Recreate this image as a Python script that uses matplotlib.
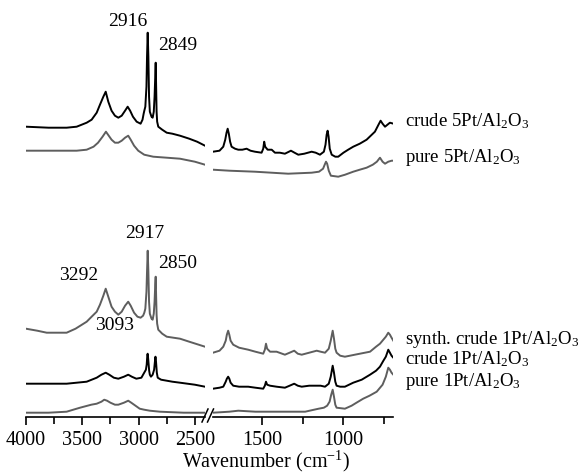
import matplotlib
matplotlib.use("Agg")
import matplotlib.pyplot as plt
from matplotlib.lines import Line2D

plt.rcParams['font.family'] = ['Liberation Serif', 'DejaVu Serif']
plt.rcParams['mathtext.fontset'] = 'custom'
plt.rcParams['mathtext.rm'] = 'Liberation Serif'
plt.rcParams['mathtext.it'] = 'Liberation Serif:italic'
plt.rcParams['mathtext.bf'] = 'Liberation Serif:bold'

# ---------------- data (wavenumber in cm-1, absorbance in a.u. with offsets) ----------------
# high-wavenumber region (4000-2410)
crude5_hi_wn = [4000, 3800, 3639, 3550, 3461, 3417, 3372, 3343, 3313, 3292, 3269, 3240, 3210, 3180, 3150,
                3120, 3097, 3075, 3050, 3017, 2982, 2965, 2955, 2949, 2940, 2930, 2925, 2919, 2913, 2907,
                2900, 2885, 2875, 2865, 2858, 2852, 2848, 2844, 2840, 2835, 2825, 2790, 2750, 2700, 2632,
                2550, 2480, 2410]
crude5_hi_y = [290, 289, 289, 290, 294, 297, 304, 312, 320, 325, 315, 306, 301, 299, 301,
               306, 310, 306, 300, 295, 293, 297, 303, 306, 310, 330, 360, 384, 360, 320,
               305, 300, 299, 305, 320, 340, 354, 330, 305, 295, 290, 287, 284, 283, 281,
               278, 275, 271]

pure5_hi_wn = [4000, 3700, 3550, 3461, 3400, 3360, 3320, 3290, 3265, 3240, 3210, 3180, 3150, 3120, 3092,
               3070, 3040, 3003, 2950, 2870, 2750, 2632, 2500, 2410]
pure5_hi_y = [266, 266, 266, 267, 270, 274, 280, 285, 281, 277, 274, 274, 276, 279, 281,
              277, 271, 266, 262, 260, 259, 258, 255, 252]

synth1_hi_wn = [4000, 3900, 3816, 3700, 3639, 3560, 3461, 3417, 3372, 3343, 3313, 3292, 3269, 3240, 3210,
                3180, 3150, 3120, 3092, 3070, 3040, 3010, 2982, 2960, 2949, 2940, 2930, 2925, 2919, 2913,
                2907, 2900, 2885, 2875, 2865, 2858, 2852, 2848, 2844, 2840, 2835, 2825, 2790, 2750, 2632,
                2550, 2410]
synth1_hi_y = [88, 86, 84, 84, 84, 88, 95, 100, 105, 112, 121, 128, 120, 110, 105,
               102, 105, 111, 115, 111, 104, 100, 99, 101, 104, 108, 125, 145, 166, 145,
               115, 103, 98, 97, 103, 115, 132, 140, 120, 102, 93, 87, 83, 80, 78,
               75, 70]

crude1_hi_wn = [4000, 3800, 3639, 3550, 3461, 3372, 3330, 3292, 3260, 3220, 3180, 3130, 3092, 3060, 3020,
                2975, 2960, 2945, 2935, 2928, 2922, 2919, 2914, 2906, 2900, 2890, 2875, 2862, 2855, 2850,
                2845, 2838, 2830, 2800, 2700, 2632, 2500, 2410]
crude1_hi_y = [33, 33, 33, 34, 35, 39, 42, 44, 42, 39, 38, 40, 42, 40, 38,
               39, 42, 45, 47, 52, 62, 63, 57, 46, 42, 40, 42, 47, 55, 60,
               55, 44, 39, 37, 35, 34, 32, 30]

pure1_hi_wn = [4000, 3800, 3639, 3580, 3520, 3420, 3372, 3330, 3305, 3280, 3250, 3210, 3180, 3130, 3092,
               3065, 3040, 2990, 2950, 2900, 2810, 2600, 2410]
pure1_hi_y = [4, 4, 5, 7, 9, 12, 13, 15, 17, 16, 14, 12, 12, 14, 16,
              14, 12, 8, 7, 6, 5, 4, 4]

# low-wavenumber region (1800-693)
crude5_lo_wn = [1800, 1760, 1737, 1725, 1717, 1710, 1703, 1695, 1686, 1665, 1645, 1620, 1594, 1570, 1543,
                1502, 1492, 1486, 1480, 1465, 1450, 1440, 1420, 1390, 1359, 1322, 1300, 1277, 1240, 1195,
                1170, 1144, 1120, 1110, 1103, 1097, 1091, 1084, 1072, 1050, 1032, 1000, 971, 940, 900,
                858, 807, 785, 772, 760, 745, 730, 715, 693]
crude5_lo_y = [265, 266, 270, 277, 284, 288, 283, 275, 270, 268, 267, 267, 268, 266, 265,
               264, 268, 275, 270, 267, 267, 267, 264, 264, 263, 266, 264, 262, 263, 265,
               264, 262, 265, 272, 282, 286, 280, 268, 262, 260, 260, 264, 267, 270, 273,
               277, 285, 292, 296, 293, 290, 292, 294, 293]

pure5_lo_wn = [1800, 1700, 1543, 1339, 1195, 1150, 1125, 1115, 1107, 1100, 1090, 1077, 1032, 990, 940,
               900, 858, 820, 795, 776, 760, 745, 725, 704, 693]
pure5_lo_y = [247, 246, 245, 243, 244, 245, 248, 252, 255, 253, 246, 241, 240, 242, 245,
              247, 249, 252, 255, 259, 255, 253, 255, 256, 256]

synth1_lo_wn = [1800, 1760, 1737, 1722, 1715, 1707, 1700, 1692, 1676, 1640, 1584, 1540, 1492, 1482, 1475,
                1468, 1450, 1410, 1359, 1330, 1302, 1280, 1256, 1210, 1164, 1140, 1113, 1090, 1078, 1066,
                1058, 1050, 1042, 1020, 991, 960, 930, 868, 837, 800, 776, 740, 725, 715, 705, 694]
synth1_lo_y = [64, 66, 70, 76, 82, 86, 82, 76, 72, 69, 67, 65, 63, 67, 73,
               68, 65, 65, 62, 64, 66, 63, 62, 64, 66, 65, 64, 68, 76, 86,
               78, 68, 64, 61, 60, 61, 62, 64, 65, 70, 73, 80, 84, 82, 79, 76]

crude1_lo_wn = [1800, 1760, 1737, 1722, 1715, 1707, 1700, 1692, 1676, 1640, 1584, 1540, 1492, 1482, 1475,
                1468, 1450, 1410, 1359, 1330, 1302, 1280, 1256, 1210, 1164, 1140, 1113, 1090, 1078, 1066,
                1058, 1050, 1042, 1020, 991, 940, 888, 837, 800, 776, 755, 740, 725, 715, 705, 694]
crude1_lo_y = [28, 29, 30, 35, 38, 40, 38, 34, 31, 30, 30, 29, 28, 31, 35,
               32, 31, 30, 29, 31, 33, 31, 30, 31, 31, 31, 30, 33, 40, 51,
               44, 35, 31, 30, 30, 34, 37, 42, 46, 50, 56, 60, 67, 64, 61, 59]

pure1_lo_wn = [1800, 1700, 1645, 1540, 1440, 1235, 1180, 1152, 1120, 1100, 1085, 1075, 1066, 1058, 1050,
               1042, 991, 950, 920, 879, 840, 796, 760, 740, 725, 715, 705, 694]
pure1_lo_y = [4, 5, 6, 5, 5, 5, 7, 8, 9, 11, 15, 22, 27, 20, 12,
              9, 8, 11, 14, 18, 21, 25, 32, 40, 49, 47, 44, 42]

peak_labels = ['2916', '2849', '2917', '2850', '3292', '3093']
series_labels = ['crude 5Pt/Al$_2$O$_3$', 'pure 5Pt/Al$_2$O$_3$',
                 'synth. crude 1Pt/Al$_2$O$_3$', 'crude 1Pt/Al$_2$O$_3$', 'pure 1Pt/Al$_2$O$_3$']
left_ticks = [4000, 3500, 3000, 2500]
left_minor = [3750, 3250, 2750]
right_ticks = [1500, 1000]
right_minor = [1250, 750]

# ---------------- layout ----------------
W, H = 584, 474
fig = plt.figure(figsize=(W / 100, H / 100), dpi=100)

def fx(px):
    return px / W

def fy(py):
    return 1 - py / H

axis_py = 416.7
ax_b = fy(axis_py)
ax_h = 1 - ax_b
axL = fig.add_axes([fx(26), ax_b, fx(205) - fx(26), ax_h])
axR = fig.add_axes([fx(213), ax_b, fx(393.5) - fx(213), ax_h])

BLACK = '#000000'
GREY = '#5e5e5e'
LW = 1.4

axL.plot(crude5_hi_wn, crude5_hi_y, color=BLACK, lw=LW)
axL.plot(pure5_hi_wn, pure5_hi_y, color=GREY, lw=LW)
axL.plot(synth1_hi_wn, synth1_hi_y, color=GREY, lw=LW)
axL.plot(crude1_hi_wn, crude1_hi_y, color=BLACK, lw=LW)
axL.plot(pure1_hi_wn, pure1_hi_y, color=GREY, lw=LW)

axR.plot(crude5_lo_wn, crude5_lo_y, color=BLACK, lw=LW)
axR.plot(pure5_lo_wn, pure5_lo_y, color=GREY, lw=LW)
axR.plot(synth1_lo_wn, synth1_lo_y, color=GREY, lw=LW)
axR.plot(crude1_lo_wn, crude1_lo_y, color=BLACK, lw=LW)
axR.plot(pure1_lo_wn, pure1_lo_y, color=GREY, lw=LW)

axL.set_xlim(4000, 2410)
axR.set_xlim(1800, 693)
for ax in (axL, axR):
    ax.set_ylim(0, axis_py)
    ax.set_facecolor('none')
    for s in ('top', 'right', 'left'):
        ax.spines[s].set_visible(False)
    ax.spines['bottom'].set_linewidth(1.2)
    ax.set_yticks([])
    ax.tick_params(axis='x', which='major', direction='out', length=6, width=1.2,
                   labelsize=14.5, pad=4.5)
    ax.tick_params(axis='x', which='minor', direction='out', length=5, width=1.2)

axL.set_xticks(left_ticks)
axL.set_xticks(left_minor, minor=True)
axR.set_xticks(right_ticks)
axR.set_xticks(right_minor, minor=True)

# break marks
for x0 in (202, 207.5):
    fig.add_artist(Line2D([fx(x0), fx(x0 + 6)], [fy(422), fy(409)], color='black', lw=1.1))

# peak labels
peak_pos = [(128, 22), (178, 46), (145, 233), (178, 263), (79, 275), (115, 325)]
for t, (px, py) in zip(peak_labels, peak_pos):
    fig.text(fx(px), fy(py), t, ha='center', va='center', fontsize=14)

# series labels
label_base = [126.7, 161.7, 343.5, 364, 385.5]
for t, py in zip(series_labels, label_base):
    fig.text(fx(405), fy(py), t, ha='left', va='baseline', fontsize=13.5)

fig.text(fx(266), fy(467.5), 'Wavenumber (cm$^{\\mathregular{-1}}$)', ha='center', va='baseline',
         fontsize=14.5)

fig.savefig('out.png', dpi=100)
